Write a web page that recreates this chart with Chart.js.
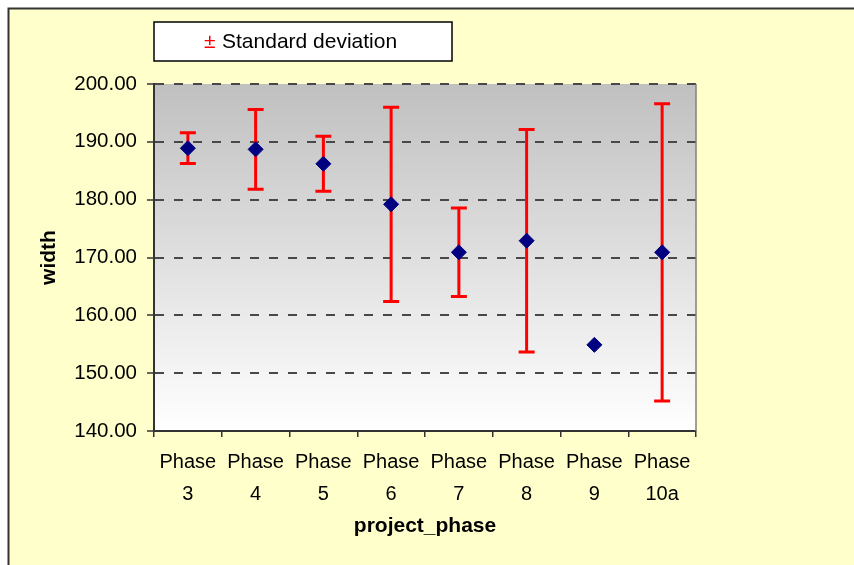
<!DOCTYPE html>
<html>
<head>
<meta charset="utf-8">
<script src="https://cdn.jsdelivr.net/npm/chart.js@4.4.0/dist/chart.umd.min.js"></script>
<style>
  body { margin: 0; background: #fff; }
</style>
</head>
<body>
<canvas id="phaseChart" width="854" height="565"></canvas>
<script>
var phaseLabels = [["Phase", "3"], ["Phase", "4"], ["Phase", "5"], ["Phase", "6"], ["Phase", "7"], ["Phase", "8"], ["Phase", "9"], ["Phase", "10a"]];
var meanWidth = [188.9, 188.7, 186.2, 179.2, 170.9, 172.9, 154.9, 170.9];
var stdDev = [2.65, 6.9, 4.75, 16.8, 7.65, 19.25, null, 25.7];
var yTicks = [140, 150, 160, 170, 180, 190, 200];

var FONT = "'Liberation Sans', Arial, sans-serif";

// frame, plot background and legend box
var backdrop = {
  id: 'backdrop',
  beforeDraw: function (chart) {
    var c = chart.ctx, a = chart.chartArea;
    c.save();
    c.fillStyle = '#ffffff';
    c.fillRect(0, 0, chart.width, chart.height);
    c.fillStyle = '#ffffcc';
    c.fillRect(8, 8, chart.width, chart.height);
    c.strokeStyle = '#333333';
    c.lineWidth = 2;
    c.beginPath();
    c.moveTo(8.5, chart.height);
    c.lineTo(8.5, 8.5);
    c.lineTo(chart.width, 8.5);
    c.stroke();
    var g = c.createLinearGradient(0, a.top, 0, a.bottom);
    g.addColorStop(0, '#c0c0c0');
    g.addColorStop(1, '#ffffff');
    c.fillStyle = g;
    c.fillRect(a.left, a.top, a.right - a.left, a.bottom - a.top);
    c.restore();
  },
  afterDraw: function (chart) {
    var c = chart.ctx, a = chart.chartArea;
    c.save();
    c.strokeStyle = '#808080';
    c.lineWidth = 1.5;
    c.beginPath();
    c.moveTo(a.right, a.top);
    c.lineTo(a.right, a.bottom);
    c.stroke();
    // legend
    c.fillStyle = '#ffffff';
    c.fillRect(154, 22, 298, 39);
    c.strokeStyle = '#000000';
    c.lineWidth = 1.5;
    c.strokeRect(154, 22, 298, 39);
    c.font = '21px ' + FONT;
    c.textBaseline = 'middle';
    c.fillStyle = '#ff0000';
    c.fillText('\u00b1', 204, 42);
    c.fillStyle = '#000000';
    c.fillText('Standard deviation', 222, 42);
    c.restore();
  }
};

// error bars drawn under the markers
var errorBars = {
  id: 'errorBars',
  beforeDatasetsDraw: function (chart) {
    var c = chart.ctx;
    var xs = chart.scales.x, ys = chart.scales.y;
    c.save();
    c.strokeStyle = '#ff0000';
    c.lineWidth = 3;
    for (var i = 0; i < meanWidth.length; i++) {
      if (stdDev[i] == null) continue;
      var x = xs.getPixelForValue(i);
      var top = ys.getPixelForValue(meanWidth[i] + stdDev[i]);
      var bot = ys.getPixelForValue(meanWidth[i] - stdDev[i]);
      c.beginPath();
      c.moveTo(x, top); c.lineTo(x, bot);
      c.moveTo(x - 8, top); c.lineTo(x + 8, top);
      c.moveTo(x - 8, bot); c.lineTo(x + 8, bot);
      c.stroke();
    }
    c.restore();
  }
};

new Chart(document.getElementById('phaseChart'), {
  type: 'line',
  data: {
    labels: phaseLabels,
    datasets: [{
      label: 'width',
      data: meanWidth,
      showLine: false,
      pointStyle: 'rectRot',
      pointRadius: 7.5,
      pointHoverRadius: 7.5,
      pointBackgroundColor: '#000080',
      pointBorderColor: '#000080',
      pointBorderWidth: 1
    }]
  },
  options: {
    responsive: false,
    animation: false,
    events: [],
    layout: { padding: { top: 84, right: 158, left: 0, bottom: 0 } },
    plugins: { legend: { display: false }, tooltip: { enabled: false } },
    scales: {
      x: {
        offset: true,
        afterFit: function (s) { s.height = 134; },
        grid: { offset: true, drawOnChartArea: false, drawTicks: true, tickLength: 6, color: '#333333', lineWidth: 1.5 },
        border: { color: '#333333', width: 2 },
        ticks: { color: '#000', padding: 9, maxRotation: 0, autoSkip: false, font: { family: FONT, size: 20, lineHeight: 1.6 } },
        title: { display: true, text: 'project_phase', color: '#000', padding: { bottom: 26 }, font: { family: FONT, size: 21, weight: 'bold', lineHeight: 1.2 } }
      },
      y: {
        min: 140,
        max: 200,
        afterFit: function (s) { s.width = 154; },
        afterBuildTicks: function (s) { s.ticks = yTicks.map(function (v) { return { value: v }; }); },
        grid: { color: '#484848', lineWidth: 2, tickLength: 7, tickColor: '#333333', tickWidth: 1.5 },
        border: { color: '#333333', width: 2, dash: [9, 10] },
        ticks: { color: '#000', padding: 10, font: { family: FONT, size: 20.5 }, callback: function (v) { return Number(v).toFixed(2); } },
        title: { display: true, text: 'width', color: '#000', padding: { top: 37 }, font: { family: FONT, size: 21, weight: 'bold', lineHeight: 1.2 } }
      }
    }
  },
  plugins: [backdrop, errorBars]
});
</script>
</body>
</html>
